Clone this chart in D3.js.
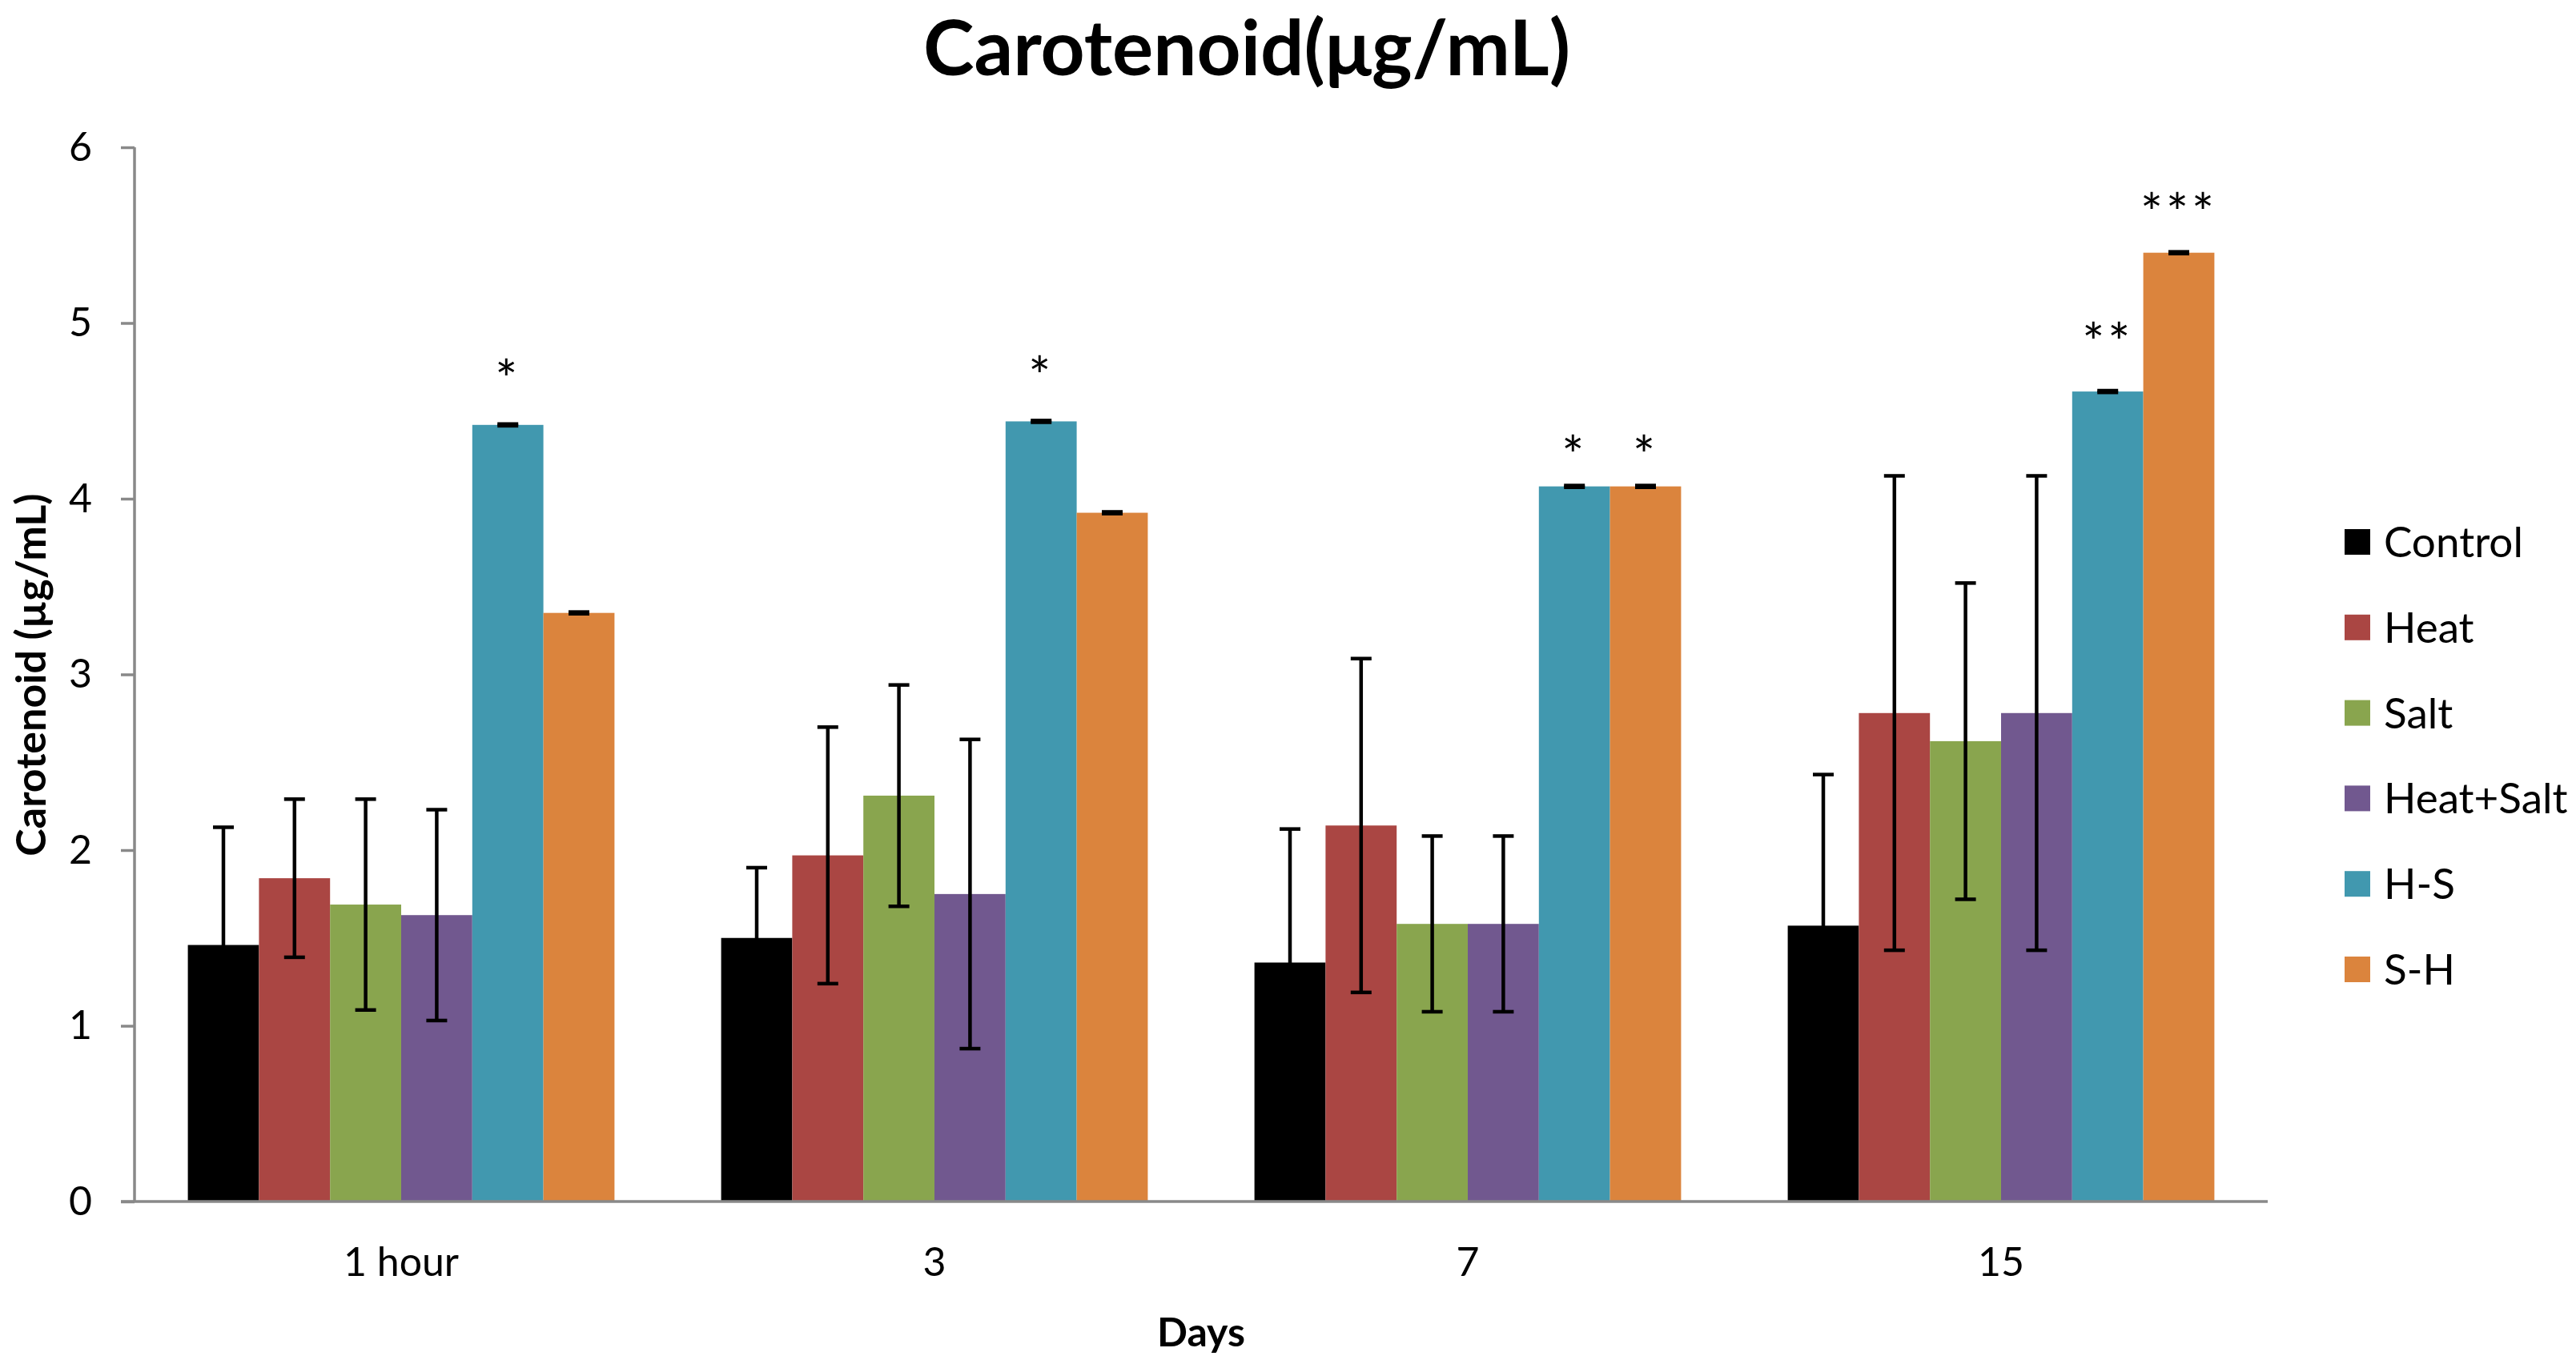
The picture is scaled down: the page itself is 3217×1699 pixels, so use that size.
<!DOCTYPE html>
<html lang="en">

<head>
    <meta charset="UTF-8">
    <title>Carotenoid</title>
    <script src="https://d3js.org/d3.v7.min.js"></script>
    <style>
        body {
            margin: 0;
            background: #fff;
        }

        text {
            font-family: Lato, "Open Sans", sans-serif;
            fill: #000;
        }

        .axis text {
            font-size: 50px;
        }
    </style>
</head>

<body>
    <div id="chart"></div>

    <script>
        // values
        var days = ["1 hour", "3", "7", "15"];
        var groups = ["Control", "Heat", "Salt", "Heat+Salt", "H-S", "S-H"];
        var colors = ["#000000", "#AA4643", "#89A54E", "#71588F", "#4198AF", "#DB843D"];

        var control = [1.46, 1.50, 1.36, 1.57];
        var heat = [1.84, 1.97, 2.14, 2.78];
        var salt = [1.69, 2.31, 1.58, 2.62];
        var heatSalt = [1.63, 1.75, 1.58, 2.78];
        var hs = [4.42, 4.44, 4.07, 4.61];
        var sh = [3.35, 3.92, 4.07, 5.40];

        var controlErr = [0.67, 0.40, 0.76, 0.86];
        var heatErr = [0.45, 0.73, 0.95, 1.35];
        var saltErr = [0.60, 0.63, 0.50, 0.90];
        var heatSaltErr = [0.60, 0.88, 0.50, 1.35];
        var hsErr = [0.005, 0.005, 0.005, 0.005];
        var shErr = [0.005, 0.005, 0.005, 0.005];

        var yTicks = [0, 1, 2, 3, 4, 5, 6];

        // significance marks: group, day, text, height (µg/mL)
        var stars = [
            { group: "H-S", day: "1 hour", text: "*", y: 4.74 },
            { group: "H-S", day: "3", text: "*", y: 4.76 },
            { group: "H-S", day: "7", text: "*", y: 4.31 },
            { group: "S-H", day: "7", text: "*", y: 4.31 },
            { group: "H-S", day: "15", text: "**", y: 4.95 },
            { group: "S-H", day: "15", text: "***", y: 5.69 }
        ];

        var means = [control, heat, salt, heatSalt, hs, sh];
        var errs = [controlErr, heatErr, saltErr, heatSaltErr, hsErr, shErr];

        var bars = [];
        days.forEach(function (day, i) {
            groups.forEach(function (g, j) {
                bars.push({ day: day, group: g, value: means[j][i], err: errs[j][i] });
            });
        });

        var W = 3217, H = 1699;
        var margin = { top: 184, right: 385, bottom: 198, left: 168 },
            width = W - margin.left - margin.right,
            height = H - margin.top - margin.bottom;

        var svg = d3.select("#chart")
            .append("svg")
            .attr("width", W)
            .attr("height", H);

        var g = svg.append("g")
            .attr("transform", "translate(" + margin.left + "," + margin.top + ")");

        var x0 = d3.scaleBand()
            .domain(days)
            .range([0, width])
            .paddingInner(0.2)
            .paddingOuter(0.1);

        var x1 = d3.scaleBand()
            .domain(groups)
            .range([0, x0.bandwidth()]);

        var y = d3.scaleLinear()
            .domain([0, 6])
            .range([height, 0]);

        var color = d3.scaleOrdinal()
            .domain(groups)
            .range(colors);

        // bars
        g.selectAll(".bar")
            .data(bars)
            .enter()
            .append("rect")
            .attr("class", "bar")
            .attr("x", function (d) { return x0(d.day) + x1(d.group); })
            .attr("y", function (d) { return y(d.value); })
            .attr("width", x1.bandwidth())
            .attr("height", function (d) { return height - y(d.value); })
            .attr("fill", function (d) { return color(d.group); });

        // error bars
        var capHalf = 13;
        var eb = g.selectAll(".err")
            .data(bars)
            .enter()
            .append("g")
            .attr("class", "err")
            .attr("transform", function (d) { return "translate(" + (x0(d.day) + x1(d.group) + x1.bandwidth() / 2) + ",0)"; })
            .style("stroke", "#000")
            .style("stroke-width", 4.5);

        eb.append("line")
            .attr("y1", function (d) { return y(d.value - d.err); })
            .attr("y2", function (d) { return y(d.value + d.err); });
        eb.append("line")
            .attr("x1", -capHalf).attr("x2", capHalf)
            .attr("y1", function (d) { return y(d.value + d.err); })
            .attr("y2", function (d) { return y(d.value + d.err); });
        eb.append("line")
            .attr("x1", -capHalf).attr("x2", capHalf)
            .attr("y1", function (d) { return y(d.value - d.err); })
            .attr("y2", function (d) { return y(d.value - d.err); });

        // stars
        g.selectAll(".star")
            .data(stars)
            .enter()
            .append("text")
            .attr("class", "star")
            .attr("x", function (d) { return x0(d.day) + x1(d.group) + x1.bandwidth() / 2; })
            .attr("y", function (d) { return y(d.y); })
            .attr("dy", "0.57em")
            .attr("text-anchor", "middle")
            .style("font-size", "66px")
            .style("letter-spacing", "4px")
            .text(function (d) { return d.text; });

        // y axis
        var yAxis = g.append("g")
            .attr("class", "axis")
            .call(d3.axisLeft(y)
                .tickValues(yTicks)
                .tickSize(17)
                .tickSizeOuter(0)
                .tickPadding(36)
                .tickFormat(d3.format("d")));
        yAxis.selectAll("path, line")
            .attr("stroke", "#898989")
            .attr("stroke-width", 3.5);
        yAxis.select(".domain").attr("d", "M0," + y(6) + "V" + height);

        // x axis
        var xAxis = g.append("g")
            .attr("class", "axis")
            .attr("transform", "translate(0," + height + ")")
            .call(d3.axisBottom(x0).tickSize(0).tickPadding(57));
        xAxis.select(".domain")
            .attr("d", "M-17,0H" + width)
            .attr("stroke", "#898989")
            .attr("stroke-width", 3.5);

        // titles
        svg.append("text")
            .attr("x", 1557)
            .attr("y", 94)
            .attr("text-anchor", "middle")
            .style("font-size", "96px")
            .style("font-weight", "bold")
            .text("Carotenoid(μg/mL)");

        svg.append("text")
            .attr("transform", "translate(37,843) rotate(-90)")
            .attr("text-anchor", "middle")
            .attr("dominant-baseline", "central")
            .style("font-size", "52px")
            .style("font-weight", "bold")
            .text("Carotenoid (µg/mL)");

        svg.append("text")
            .attr("x", margin.left + width / 2)
            .attr("y", 1663)
            .attr("text-anchor", "middle")
            .attr("dominant-baseline", "central")
            .style("font-size", "50px")
            .style("font-weight", "bold")
            .text("Days");

        // legend
        var legend = svg.selectAll(".legend")
            .data(groups)
            .enter()
            .append("g")
            .attr("class", "legend")
            .attr("transform", function (d, i) { return "translate(2928," + (677 + i * 106.8) + ")"; });

        legend.append("rect")
            .attr("y", -16)
            .attr("width", 32)
            .attr("height", 32)
            .attr("fill", function (d) { return color(d); });

        legend.append("text")
            .attr("x", 49)
            .attr("dy", "0.36em")
            .style("font-size", "53px")
            .text(function (d) { return d; });
    </script>
</body>

</html>
